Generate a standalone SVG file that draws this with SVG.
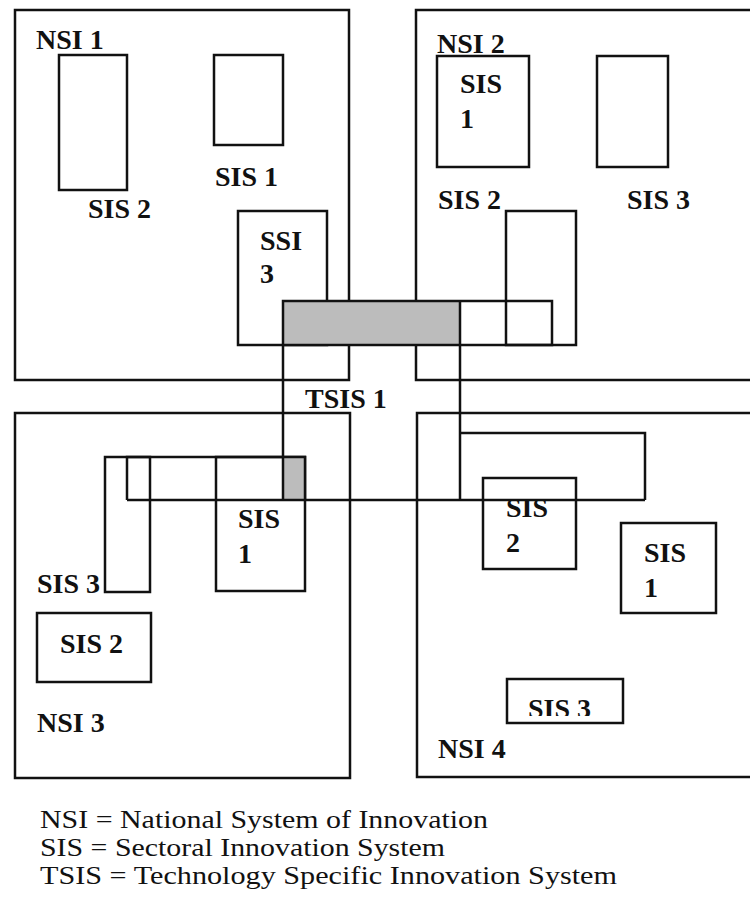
<svg xmlns="http://www.w3.org/2000/svg" width="750" height="901" viewBox="0 0 750 901">
<style>
.b{fill:none;stroke:#111;stroke-width:2.5}
.g{fill:#bcbcbc;stroke:none}
.t{font-family:"Liberation Serif","Times New Roman",serif;font-weight:bold;font-size:28px;fill:#111}
.lg{font-family:"Liberation Serif","Times New Roman",serif;font-size:26px;fill:#111}
</style>
<defs>
<clipPath id="cut"><rect x="500" y="680" width="130" height="36"/></clipPath>
</defs>
<rect width="750" height="901" fill="#fff"/>
<g id="nsi1">
<rect class="b" x="15" y="10" width="334" height="370"/>
<text class="t" x="36" y="49">NSI 1</text>
</g>
<g id="nsi1-sis2"><rect class="b" x="59" y="55" width="68" height="135"/><text class="t" x="88" y="218">SIS 2</text></g>
<g id="nsi1-sis1"><rect class="b" x="214" y="55" width="69" height="90"/><text class="t" x="215" y="186">SIS 1</text></g>
<g id="nsi1-ssi3"><rect class="b" x="238" y="211" width="89" height="134"/><text class="t" x="260" y="250">SSI</text><text class="t" x="260" y="283">3</text></g>
<g id="nsi2">
<rect class="b" x="416" y="10" width="344" height="370"/>
</g>
<g id="nsi2-sis1"><rect class="b" x="437" y="56" width="92" height="111"/><text class="t" x="460" y="93">SIS</text><text class="t" x="460" y="128">1</text></g>
<g id="nsi2-sis3"><rect class="b" x="597" y="56" width="71" height="111"/><text class="t" x="627" y="209">SIS 3</text></g>
<g id="nsi2-sis2"><rect class="b" x="506" y="211" width="70" height="134"/><text class="t" x="438" y="209">SIS 2</text></g>
<g id="nsi2-label"><text class="t" x="437" y="53">NSI 2</text></g>
<g id="nsi3">
<rect class="b" x="15" y="413" width="335" height="365"/>
<text class="t" x="37" y="732">NSI 3</text>
</g>
<g id="nsi3-sis3"><rect class="b" x="105" y="457" width="45" height="135"/><text class="t" x="37" y="593">SIS 3</text></g>
<g id="nsi3-sis1"><rect class="b" x="216" y="457" width="89" height="134"/><text class="t" x="238" y="528">SIS</text><text class="t" x="238" y="563">1</text></g>
<g id="nsi3-sis2"><rect class="b" x="37" y="613" width="114" height="69"/><text class="t" x="60" y="653">SIS 2</text></g>
<g id="nsi4">
<rect class="b" x="417" y="413" width="343" height="364"/>
<text class="t" x="438" y="758">NSI 4</text>
</g>
<g id="nsi4-sis2"><rect class="b" x="483" y="478" width="93" height="91"/><text class="t" x="506" y="517">SIS</text><text class="t" x="506" y="552">2</text></g>
<g id="nsi4-sis1"><rect class="b" x="621" y="523" width="95" height="90"/><text class="t" x="644" y="562">SIS</text><text class="t" x="644" y="597">1</text></g>
<g id="nsi4-sis3"><text class="t" x="528" y="718" clip-path="url(#cut)">SIS 3</text><rect class="b" x="507" y="679" width="116" height="44"/></g>
<g id="tsis1">
<rect class="g" x="283" y="301" width="177" height="44"/>
<rect class="g" x="283" y="458" width="22" height="42"/>
<path class="b" d="M283,301 H552 V345 H283 Z M283,345 V500 M460,301 V500 M127,500 H645 M127,500 V457 H305 V500 M460,433 H645 V500"/>
<text class="t" x="305" y="408">TSIS 1</text>
</g>
<g id="legend">
<text class="lg" x="40" y="828" textLength="448" lengthAdjust="spacingAndGlyphs">NSI = National System of Innovation</text>
<text class="lg" x="40" y="856" textLength="405" lengthAdjust="spacingAndGlyphs">SIS = Sectoral Innovation System</text>
<text class="lg" x="40" y="884" textLength="577" lengthAdjust="spacingAndGlyphs">TSIS = Technology Specific Innovation System</text>
</g>
</svg>
